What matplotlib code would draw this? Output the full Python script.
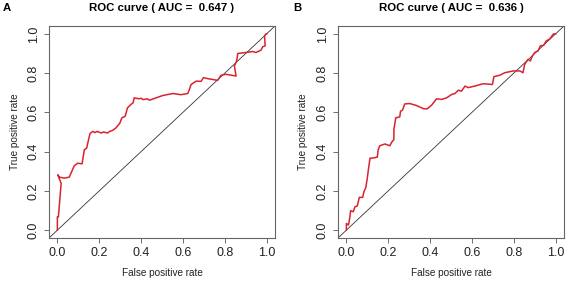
#!/usr/bin/env python3

import matplotlib

matplotlib.use("Agg")
import matplotlib.pyplot as plt

plt.rcParams["font.family"] = ["Liberation Sans", "DejaVu Sans"]

# ROC curve A
fpr_a = [0.0, 0.0, 0.005, 0.018, 0.002, 0.01, 0.033, 0.057, 0.065, 0.081,
         0.097, 0.118, 0.121, 0.129, 0.140, 0.149, 0.156, 0.169, 0.18, 0.19,
         0.21, 0.22, 0.24, 0.25, 0.264, 0.280, 0.299, 0.308, 0.324, 0.335,
         0.351, 0.362, 0.367, 0.391, 0.40, 0.41, 0.43, 0.44, 0.456, 0.504,
         0.552, 0.591, 0.623, 0.631, 0.639, 0.663, 0.687, 0.698, 0.718, 0.766,
         0.782, 0.806, 0.854, 0.846, 0.857, 0.862, 0.901, 0.933, 0.949, 0.973,
         0.981, 0.993, 0.990, 0.997, 1.0]
tpr_a = [0.0, 0.068, 0.068, 0.239, 0.282, 0.27, 0.265, 0.27, 0.290, 0.328,
         0.341, 0.338, 0.358, 0.41, 0.418, 0.461, 0.492, 0.503, 0.497, 0.503,
         0.495, 0.50, 0.495, 0.503, 0.508, 0.521, 0.546, 0.572, 0.580, 0.623,
         0.640, 0.649, 0.674, 0.669, 0.672, 0.665, 0.669, 0.662, 0.668, 0.686,
         0.696, 0.690, 0.696, 0.717, 0.742, 0.759, 0.758, 0.777, 0.772, 0.763,
         0.789, 0.794, 0.785, 0.836, 0.862, 0.900, 0.905, 0.910, 0.905, 0.917,
         0.934, 0.939, 0.99, 1.0, 1.0]

# ROC curve B
fpr_b = [0.0, 0.0, 0.01, 0.017, 0.02, 0.033, 0.041, 0.052, 0.057, 0.062,
         0.078, 0.084, 0.093, 0.1, 0.105, 0.113, 0.125, 0.148, 0.152, 0.160,
         0.184, 0.208, 0.216, 0.227, 0.227, 0.236, 0.255, 0.259, 0.268, 0.279,
         0.303, 0.335, 0.370, 0.386, 0.406, 0.431, 0.455, 0.479, 0.503, 0.519,
         0.535, 0.550, 0.567, 0.582, 0.614, 0.654, 0.698, 0.705, 0.733, 0.757,
         0.797, 0.829, 0.844, 0.852, 0.868, 0.879, 0.889, 0.9, 0.916, 0.927,
         0.943, 0.955, 0.971, 0.990, 1.0]
tpr_b = [0.0, 0.034, 0.026, 0.068, 0.099, 0.094, 0.119, 0.123, 0.145, 0.167,
         0.167, 0.196, 0.217, 0.265, 0.307, 0.367, 0.367, 0.372, 0.41, 0.430,
         0.439, 0.430, 0.447, 0.461, 0.512, 0.572, 0.577, 0.606, 0.611, 0.643,
         0.645, 0.635, 0.618, 0.618, 0.635, 0.669, 0.666, 0.674, 0.691, 0.696,
         0.713, 0.708, 0.734, 0.726, 0.734, 0.746, 0.742, 0.782, 0.789, 0.802,
         0.811, 0.811, 0.802, 0.845, 0.870, 0.862, 0.887, 0.905, 0.913, 0.939,
         0.942, 0.964, 0.973, 1.0, 1.0]

panels = ["A", "B"]
auc_values = ["0.647", "0.636"]
tick_values = [0.0, 0.2, 0.4, 0.6, 0.8, 1.0]
tick_labels = ["0.0", "0.2", "0.4", "0.6", "0.8", "1.0"]

W, H = 567, 281
fig = plt.figure(figsize=(W / 100, H / 100), dpi=100)

curves = [(fpr_a, tpr_a), (fpr_b, tpr_b)]
lefts = [49, 338]
letter_x = [3, 293]

for i, (fpr, tpr) in enumerate(curves):
    ax = fig.add_axes([lefts[i] / W, (H - 238) / H, 226 / W, 212 / H])
    ax.axline((0, 0), slope=1, color="#333333", lw=0.6)
    ax.plot(fpr, tpr, color="#d9232e", lw=1.1)
    ax.set_xlim(-0.04, 1.04)
    ax.set_ylim(-0.04, 1.04)
    ax.set_xticks(tick_values)
    ax.set_xticklabels(tick_labels)
    ax.set_yticks(tick_values)
    ax.set_yticklabels(tick_labels, rotation=90, va="center")
    ax.tick_params(direction="out", length=3.6, width=0.6, color="#555555",
                   labelsize=9, labelcolor="#222222", pad=3)
    ax.tick_params(axis="y", pad=3)
    for sp in ax.spines.values():
        sp.set_color("#666666")
        sp.set_linewidth(0.8)
    ax.set_xlabel("False positive rate", fontsize=7.2, color="#222222",
                  labelpad=6)
    ax.set_ylabel("True positive rate", fontsize=7.2, color="#222222",
                  labelpad=6)
    ax.set_title(f"ROC curve ( AUC =  {auc_values[i]} )", fontsize=8.2,
                 fontweight="bold", pad=11)
    fig.text(letter_x[i] / W, 1 - 11 / H, panels[i], fontsize=8.2,
             fontweight="bold", va="baseline")

fig.savefig("out.png", dpi=100)
